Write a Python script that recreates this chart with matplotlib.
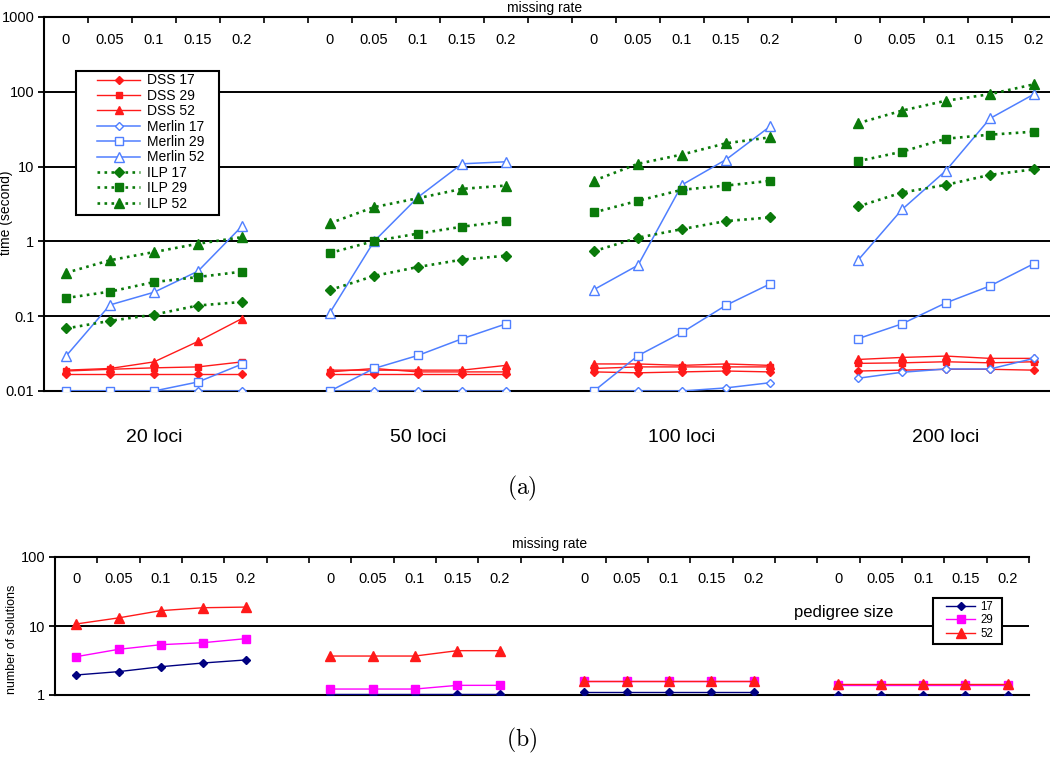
import matplotlib
matplotlib.use("Agg")
import matplotlib.pyplot as plt
from matplotlib.patches import Rectangle

plt.rcParams['font.family'] = ['Liberation Sans', 'DejaVu Sans']
plt.rcParams['mathtext.fontset'] = 'cm'

# ---------------- data ----------------
rates = ["0", "0.05", "0.1", "0.15", "0.2"]
loci_groups = ["20 loci", "50 loci", "100 loci", "200 loci"]

dss17 = [0.017, 0.017, 0.017, 0.017, 0.017,
         0.017, 0.017, 0.017, 0.017, 0.017,
         0.018, 0.0175, 0.018, 0.0185, 0.018,
         0.0185, 0.019, 0.0195, 0.0195, 0.019]
dss29 = [0.0185, 0.0195, 0.0204, 0.021, 0.0245,
         0.018, 0.020, 0.018, 0.018, 0.018,
         0.020, 0.021, 0.021, 0.021, 0.021,
         0.0234, 0.0238, 0.0246, 0.0238, 0.0246]
dss52 = [0.019, 0.020, 0.0245, 0.046, 0.093,
         0.019, 0.019, 0.019, 0.019, 0.022,
         0.023, 0.023, 0.022, 0.023, 0.022,
         0.0264, 0.0281, 0.0293, 0.0273, 0.0273]
merlin17 = [0.01, 0.01, 0.01, 0.01, 0.01,
            0.01, 0.01, 0.01, 0.01, 0.01,
            0.01, 0.01, 0.01, 0.011, 0.0129,
            0.0148, 0.0178, 0.0197, 0.0197, 0.0273]
merlin29 = [0.01, 0.01, 0.01, 0.0132, 0.0229,
            0.01, 0.02, 0.0299, 0.0499, 0.079,
            0.01, 0.0297, 0.0606, 0.14, 0.27,
            0.05, 0.079, 0.151, 0.254, 0.505]
merlin52 = [0.0293, 0.1415, 0.209, 0.40, 1.6,
            0.112, 1.0, 3.9, 10.9, 11.6,
            0.227, 0.48, 5.7, 12.4, 34.4,
            0.56, 2.67, 8.85, 44, 93]
ilp17 = [0.0685, 0.0866, 0.105, 0.139, 0.155,
         0.224, 0.345, 0.455, 0.57, 0.644,
         0.74, 1.12, 1.46, 1.87, 2.09,
         2.93, 4.5, 5.7, 7.75, 9.2]
ilp29 = [0.175, 0.213, 0.286, 0.334, 0.394,
         0.70, 1.01, 1.27, 1.57, 1.87,
         2.44, 3.49, 4.9, 5.58, 6.44,
         11.8, 15.8, 23.6, 26.7, 29.3]
ilp52 = [0.38, 0.56, 0.72, 0.93, 1.14,
         1.75, 2.87, 3.78, 5.04, 5.58,
         6.5, 10.9, 14.5, 20.5, 24.6,
         38, 56, 76, 93, 126]

sol17 = [1.95, 2.18, 2.57, 2.91, 3.22,
         1.04, 1.04, 1.04, 1.04, 1.04,
         1.09, 1.09, 1.09, 1.09, 1.09,
         1.0, 1.0, 1.0, 1.0, 1.0]
sol29 = [3.59, 4.59, 5.36, 5.73, 6.55,
         1.22, 1.22, 1.22, 1.38, 1.38,
         1.58, 1.58, 1.58, 1.58, 1.58,
         1.40, 1.40, 1.40, 1.40, 1.40]
sol52 = [10.7, 13.1, 16.7, 18.4, 18.8,
         3.67, 3.67, 3.67, 4.39, 4.39,
         1.62, 1.62, 1.62, 1.62, 1.62,
         1.42, 1.42, 1.42, 1.42, 1.42]

# category positions: 5 rates per group, one empty slot between groups
xpos = [6 * g + r for g in range(len(loci_groups)) for r in range(len(rates))]

RED = "#ff1a1a"
BLUE = "#4f7fff"
GREEN = "#0a7a0a"

fig = plt.figure(figsize=(10.5, 7.61), dpi=100)
W, H = 1050.0, 761.0
ax1 = fig.add_axes([44 / W, 1 - 391 / H, 1006 / W, 374 / H])
ax2 = fig.add_axes([55 / W, 1 - 695 / H, 974 / W, 138 / H])


def plot_groups(ax, y, label, **kw):
    for g in range(len(loci_groups)):
        sl = slice(5 * g, 5 * g + 5)
        ax.plot(xpos[sl], y[sl], label=label if g == 0 else None, **kw)


def frame_box(ax, x0, y0, x1, y1):
    r = Rectangle((x0 / W, 1 - y1 / H), (x1 - x0) / W, (y1 - y0) / H,
                  transform=fig.transFigure, facecolor="white", edgecolor="black",
                  lw=1.5, zorder=4, clip_on=False)
    ax.add_patch(r)


# ---------------- top panel ----------------
series_top = [
    (dss17, "DSS 17", dict(color=RED, lw=1.0, marker="D", ms=4.5, mfc=RED, mec=RED, ls="-")),
    (dss29, "DSS 29", dict(color=RED, lw=1.0, marker="s", ms=5, mfc=RED, mec=RED, ls="-")),
    (dss52, "DSS 52", dict(color=RED, lw=1.0, marker="^", ms=6, mfc=RED, mec=RED, ls="-")),
    (merlin17, "Merlin 17", dict(color=BLUE, lw=1.1, marker="D", ms=4, mfc="white", mec=BLUE, mew=1.0, ls="-")),
    (merlin29, "Merlin 29", dict(color=BLUE, lw=1.1, marker="s", ms=5.5, mfc="white", mec=BLUE, mew=1.0, ls="-")),
    (merlin52, "Merlin 52", dict(color=BLUE, lw=1.1, marker="^", ms=7, mfc="white", mec=BLUE, mew=1.0, ls="-")),
    (ilp17, "ILP 17", dict(color=GREEN, lw=1.9, marker="D", ms=5, mfc=GREEN, mec=GREEN, ls=":")),
    (ilp29, "ILP 29", dict(color=GREEN, lw=1.9, marker="s", ms=6, mfc=GREEN, mec=GREEN, ls=":")),
    (ilp52, "ILP 52", dict(color=GREEN, lw=1.9, marker="^", ms=7, mfc=GREEN, mec=GREEN, ls=":")),
]
for y, lab, kw in series_top:
    plot_groups(ax1, y, lab, zorder=3, **kw)

ax1.set_yscale("log")
ax1.set_ylim(0.01, 1000)
ax1.set_xlim(-0.5, (1050 - 66) / 44.0)
ax1.set_yticks([0.01, 0.1, 1, 10, 100, 1000])
ax1.set_yticklabels(["0.01", "0.1", "1", "10", "100", "1000"], fontsize=10.5)
ax1.yaxis.set_minor_locator(matplotlib.ticker.NullLocator())
ax1.tick_params(axis="y", which="major", direction="out", length=4, width=1.3, pad=3)
ax1.grid(axis="y", color="black", lw=1.4, zorder=1)
ax1.set_axisbelow(True)

ax1.set_xticks([])
ax1.set_xticks([k + 0.5 for k in range(22)], minor=True)
ax1.tick_params(axis="x", which="minor", top=True, bottom=False, direction="in", length=4, width=1.2)
for s in ["top", "left", "bottom"]:
    ax1.spines[s].set_linewidth(1.5)
ax1.spines["right"].set_visible(False)

tr1 = ax1.get_xaxis_transform()
for i, x in enumerate(xpos):
    ax1.text(x, 1 - 23 / 374, rates[i % 5], transform=tr1, ha="center", va="center", fontsize=10.5)
for g, name in enumerate(loci_groups):
    ax1.text(6 * g + 2, -46 / 374, name, transform=tr1, ha="center", va="center", fontsize=14)
fig.text(545 / W, 1 - 8 / H, "missing rate", ha="center", va="center", fontsize=10)
fig.text(6 / W, 1 - 213 / H, "time (second)", rotation=90, ha="center", va="center", fontsize=10)

frame_box(ax1, 76, 71, 219, 215)
leg1 = ax1.legend(loc="upper left", bbox_to_anchor=((97 - 44) / 1006, 1 - (73.5 - 17) / 374),
                  borderaxespad=0, fontsize=10, handlelength=3.1, labelspacing=0.1,
                  frameon=False, borderpad=0, handletextpad=0.5)
leg1.set_zorder(5)

fig.text(522 / W, 1 - 488 / H, r"$\mathrm{(a)}$", ha="center", va="center", fontsize=17)

# ---------------- bottom panel ----------------
NAVY = "#000080"
MAG = "#ff00ff"
series_bot = [
    (sol17, "17", dict(color=NAVY, lw=1.0, marker="D", ms=4.5, mfc=NAVY, mec=NAVY)),
    (sol29, "29", dict(color=MAG, lw=1.0, marker="s", ms=5.5, mfc=MAG, mec=MAG)),
    (sol52, "52", dict(color=RED, lw=1.0, marker="^", ms=6.5, mfc=RED, mec=RED)),
]
for y, lab, kw in series_bot:
    plot_groups(ax2, y, lab, zorder=3, **kw)

ax2.set_yscale("log")
ax2.set_ylim(1, 100)
ax2.set_xlim(-0.5, 22.5)
ax2.set_yticks([1, 10, 100])
ax2.set_yticklabels(["1", "10", "100"], fontsize=10.5)
ax2.yaxis.set_minor_locator(matplotlib.ticker.NullLocator())
ax2.tick_params(axis="y", which="major", direction="out", length=4, width=1.3, pad=3)
ax2.grid(axis="y", color="black", lw=1.4, zorder=1)
ax2.set_axisbelow(True)
ax2.set_xticks([])
ax2.set_xticks([k + 0.5 for k in range(23)], minor=True)
ax2.tick_params(axis="x", which="minor", top=True, bottom=False, direction="in", length=4, width=1.2)
for s in ["top", "left", "bottom"]:
    ax2.spines[s].set_linewidth(1.5)
ax2.spines["right"].set_visible(False)

tr2 = ax2.get_xaxis_transform()
for i, x in enumerate(xpos):
    ax2.text(x, 1 - 22 / 138, rates[i % 5], transform=tr2, ha="center", va="center", fontsize=10.5)
fig.text(550 / W, 1 - 544 / H, "missing rate", ha="center", va="center", fontsize=10)
fig.text(12 / W, 1 - 639 / H, "number of solutions", rotation=90, ha="center", va="center", fontsize=9)
fig.text(844 / W, 1 - 612 / H, "pedigree size", ha="center", va="center", fontsize=12)

frame_box(ax2, 933, 598, 1002, 644)
leg2 = ax2.legend(loc="upper left", bbox_to_anchor=((946 - 55) / 974, 1 - (601 - 557) / 138),
                  borderaxespad=0, fontsize=8.3, handlelength=2.55, labelspacing=0.12,
                  frameon=False, borderpad=0, handletextpad=0.4)
leg2.set_zorder(5)

fig.text(522 / W, 1 - 740 / H, r"$\mathrm{(b)}$", ha="center", va="center", fontsize=17)

fig.savefig("out.png", dpi=100)
